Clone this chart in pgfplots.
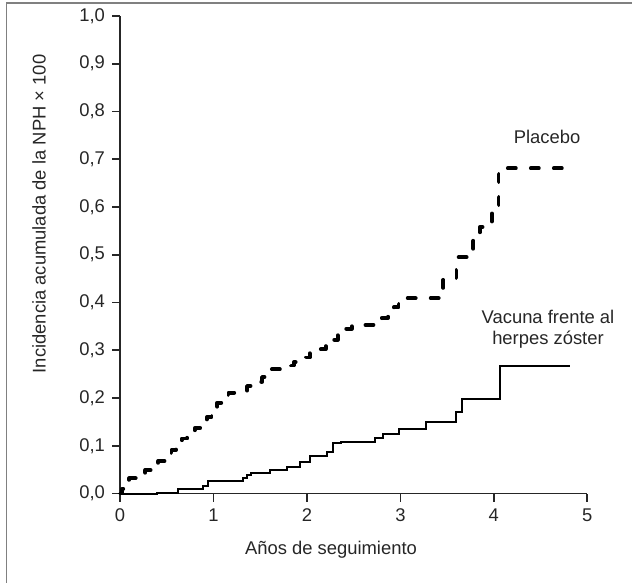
\documentclass[border=0pt]{standalone}
\usepackage{pgfplots}
\pgfplotsset{compat=1.18}
\usepackage{fontspec}
\setmainfont{Liberation Sans}
\newcommand\lblfont{\fontsize{9.2}{10.5}\selectfont}

\begin{document}
\begin{tikzpicture}[font=\lblfont]
\path[use as bounding box] (0,0) rectangle (316pt,-291.5pt);
\draw[black!50, line width=0.75pt] (3.25pt,-291.5pt) -- (3.25pt,-1.5pt) -- (316pt,-1.5pt);

\begin{axis}[
    at={(60pt,-246.75pt)}, anchor=south west,
    scale only axis,
    width=233.65pt, height=238.75pt,
    xmin=0, xmax=5, ymin=0, ymax=1,
    axis x line=bottom, axis y line=left,
    axis line style={-, line width=0.8pt, black!85},
    tick style={line width=0.8pt, black!85},
    tick align=outside,
    major tick length=4pt,
    xtick={0,1,2,3,4,5},
    xticklabels={0,1,2,3,4,5},
    ytick={0,0.1,0.2,0.3,0.4,0.5,0.6,0.7,0.8,0.9,1},
    yticklabels={{0,0},{0,1},{0,2},{0,3},{0,4},{0,5},{0,6},{0,7},{0,8},{0,9},{1,0}},
    tick label style={black!85},
    clip=false,
]
% placebo
\addplot[const plot, black, line width=1.9pt, line cap=round, line join=round,
         dash pattern=on 4pt off 7.5pt] coordinates {
(0,0)(0.02,0.01)(0.06,0.022)(0.1,0.032)(0.2,0.04)(0.27,0.049)(0.35,0.06)(0.41,0.068)
(0.48,0.078)(0.55,0.091)(0.6,0.1)(0.66,0.115)(0.72,0.125)(0.8,0.137)(0.86,0.148)
(0.93,0.160)(0.98,0.175)(1.04,0.19)(1.1,0.2)(1.16,0.211)(1.36,0.225)(1.45,0.234)
(1.52,0.244)(1.58,0.26)(1.8,0.268)(1.86,0.275)(1.95,0.285)(2.03,0.294)(2.1,0.302)
(2.2,0.311)(2.28,0.322)(2.33,0.335)(2.4,0.345)(2.48,0.353)(2.73,0.357)(2.8,0.368)
(2.87,0.378)(2.93,0.39)(2.98,0.409)(3.43,0.43)(3.46,0.449)(3.6,0.495)(3.78,0.53)
(3.85,0.558)(3.98,0.6)(4.05,0.681)(4.8,0.681)
};
% vacuna
\addplot[const plot, black, line width=1pt] coordinates {
(0,0)(0.40,0.002)(0.62,0.009)(0.89,0.015)(0.94,0.026)(1.32,0.032)(1.36,0.038)
(1.40,0.043)(1.61,0.049)(1.79,0.055)(1.93,0.066)(2.03,0.079)(2.21,0.087)(2.28,0.106)
(2.36,0.108)(2.73,0.116)(2.81,0.124)(2.98,0.135)(3.27,0.150)(3.59,0.171)(3.66,0.198)
(4.07,0.267)(4.82,0.267)
};
\end{axis}

\node[rotate=90, black!85] at (19.5pt,-107pt) {Incidencia acumulada de la NPH × 100};
\node[black!85] at (165.5pt,-275pt) {Años de seguimiento};
\node[black!85] at (273.5pt,-68.5pt) {Placebo};
\node[black!85, align=center] at (274pt,-164.5pt) {Vacuna frente al\\herpes zóster};
\end{tikzpicture}
\end{document}
